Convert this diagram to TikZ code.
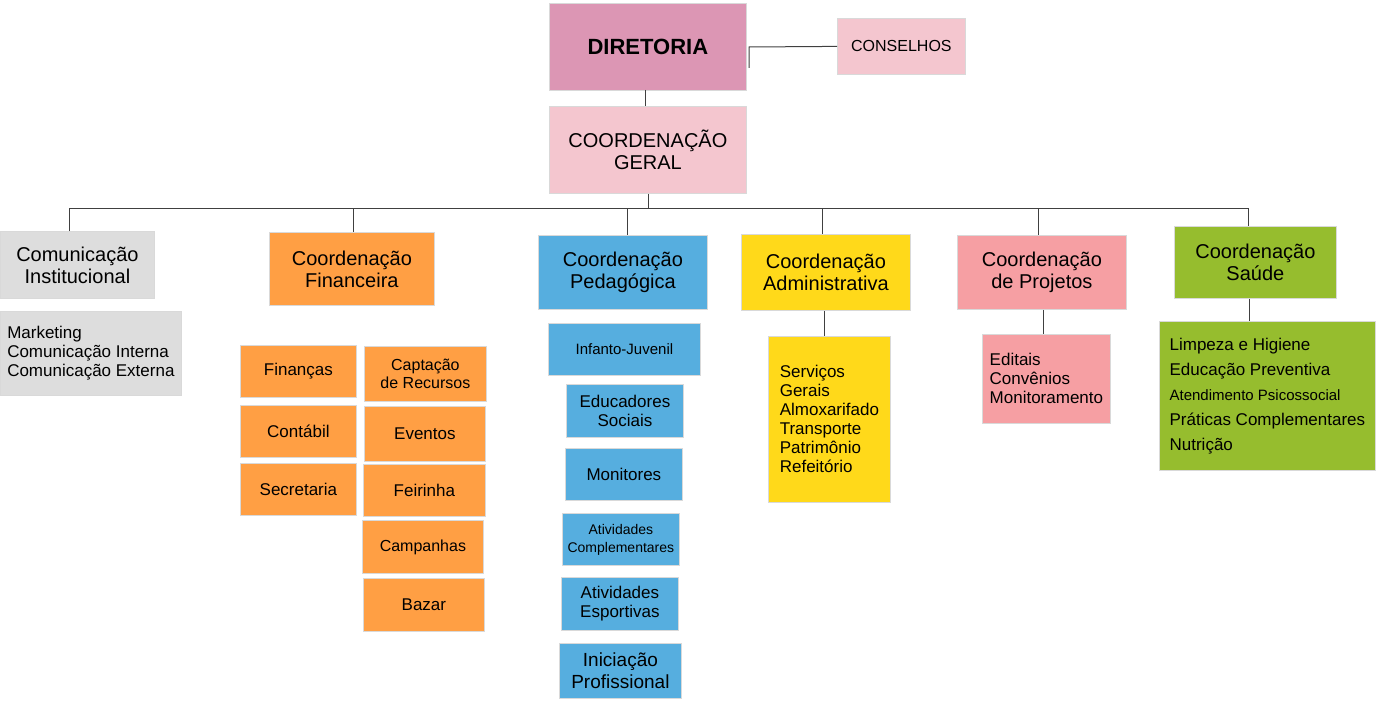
\documentclass[tikz,border=0pt]{standalone}
\usepackage{fontspec}
\setmainfont{Liberation Sans}
\usetikzlibrary{positioning}
\definecolor{dirpink}{HTML}{DC96B4}
\definecolor{lightpink}{HTML}{F4C6CF}
\definecolor{commgray}{HTML}{DDDDDD}
\definecolor{finorange}{HTML}{FF9F44}
\definecolor{pedblue}{HTML}{56AEDF}
\definecolor{admyellow}{HTML}{FFD91A}
\definecolor{projpink}{HTML}{F69FA3}
\definecolor{saugreen}{HTML}{96BD2E}
\newcommand\orgbox[7]{\node[#6, anchor=north west, minimum width={(#4-#2)*0.5pt}, minimum height={(#5-#3)*0.5pt}] (#1) at (#2,#3) {#7};}
\begin{document}
\begin{tikzpicture}[x=0.5pt,y=-0.5pt]

\tikzset{unit/.style={draw=black!15, inner sep=1pt, align=center, font=\fontsize{10}{11}\selectfont}}
\tikzset{sub/.style={unit, font=\fontsize{8.5}{9.5}\selectfont}}
\tikzset{list/.style={sub, align=left}}
\tikzset{link/.style={draw=black!75, line width=0.5pt}}

\useasboundingbox (0,0) rectangle (1376,706);

\orgbox{dir}{549}{3}{746}{90}{unit, fill=dirpink, font=\bfseries\fontsize{11}{12}\selectfont}{DIRETORIA}
\orgbox{cons}{837}{18}{965}{74}{sub, fill=lightpink, font=\fontsize{8}{9}\selectfont}{CONSELHOS}
\orgbox{geral}{549}{106}{746}{193}{unit, fill=lightpink}{COORDENAÇÃO\\GERAL}

\orgbox{com}{0}{231}{154}{298}{unit, fill=commgray}{Comunicação\\Institucional}
\orgbox{fin}{269}{232}{434}{305}{unit, fill=finorange}{Coordenação\\Financeira}
\orgbox{ped}{538}{235}{707}{309}{unit, fill=pedblue}{Coordenação\\Pedagógica}
\orgbox{adm}{741}{234}{910}{310}{unit, fill=admyellow}{Coordenação\\Administrativa}
\orgbox{proj}{957}{235}{1126}{309}{unit, fill=projpink}{Coordenação\\de Projetos}
\orgbox{sau}{1174}{226}{1336}{298}{unit, fill=saugreen}{Coordenação\\Saúde}

% listas
\orgbox{comlist}{0}{311}{181}{395}{list, fill=commgray}{Marketing\\Comunicação Interna\\Comunicação Externa}
\orgbox{admlist}{768}{336}{890}{502}{list, fill=admyellow}{Serviços\\Gerais\\Almoxarifado\\Transporte\\Patrimônio\\Refeitório}
\orgbox{projlist}{982}{334}{1110}{423}{list, fill=projpink}{Editais\\Convênios\\Monitoramento}
\orgbox{saulist}{1159}{321}{1375}{470}{list, fill=saugreen, font=\fontsize{8.5}{12.5}\selectfont}{Limpeza e Higiene\\Educação Preventiva\\{\fontsize{7.5}{9}\selectfont Atendimento Psicossocial}\\Práticas Complementares\\Nutrição}

% financeira
\orgbox{financas}{240}{345}{356}{397}{sub, fill=finorange}{Finanças}
\orgbox{contabil}{240}{405}{356}{457}{sub, fill=finorange}{Contábil}
\orgbox{secret}{240}{463}{356}{515}{sub, fill=finorange}{Secretaria}
\orgbox{captacao}{364}{346}{486}{401}{sub, fill=finorange, font=\fontsize{8}{9}\selectfont}{Captação\\de Recursos}
\orgbox{eventos}{364}{406}{485}{461}{sub, fill=finorange}{Eventos}
\orgbox{feirinha}{363}{464}{485}{516}{sub, fill=finorange}{Feirinha}
\orgbox{campanhas}{362}{520}{483}{573}{sub, fill=finorange, font=\fontsize{8}{9}\selectfont}{Campanhas}
\orgbox{bazar}{363}{578}{484}{631}{sub, fill=finorange}{Bazar}

% pedagogica
\orgbox{infanto}{548}{323}{700}{375}{sub, fill=pedblue, font=\fontsize{7.5}{9}\selectfont}{Infanto-Juvenil}
\orgbox{educ}{566}{384}{683}{437}{sub, fill=pedblue}{Educadores\\Sociais}
\orgbox{monit}{565}{448}{682}{500}{sub, fill=pedblue}{Monitores}
\orgbox{ativcomp}{562}{513}{679}{565}{sub, fill=pedblue, font=\fontsize{7}{9}\selectfont}{Atividades\\Complementares}
\orgbox{ativesp}{561}{577}{678}{630}{sub, fill=pedblue}{Atividades\\Esportivas}
\orgbox{inic}{559}{643}{681}{698}{sub, fill=pedblue, font=\fontsize{9.5}{11}\selectfont}{Iniciação\\Profissional}

% ligacoes
\coordinate (bar) at (648,208);
\draw[link] (749,68) -- (749,47) -- (cons.west);
\draw[link] (645,90) -- (645,106);
\draw[link] (geral.south -| bar) -- (bar);
\draw[link] (com.north -| 69,0) -- (69,208) -- (1248,208) -- (sau.north -| 1248,0);
\foreach \nd/\xx in {fin/353, ped/627, adm/822, proj/1038}
  \draw[link] (\xx,208) -- (\nd.north -| \xx,0);
\draw[link] (adm.south -| 824,0) -- (admlist.north -| 824,0);
\draw[link] (proj.south -| 1043,0) -- (projlist.north -| 1043,0);
\draw[link] (sau.south -| 1249,0) -- (saulist.north -| 1249,0);

\end{tikzpicture}
\end{document}
